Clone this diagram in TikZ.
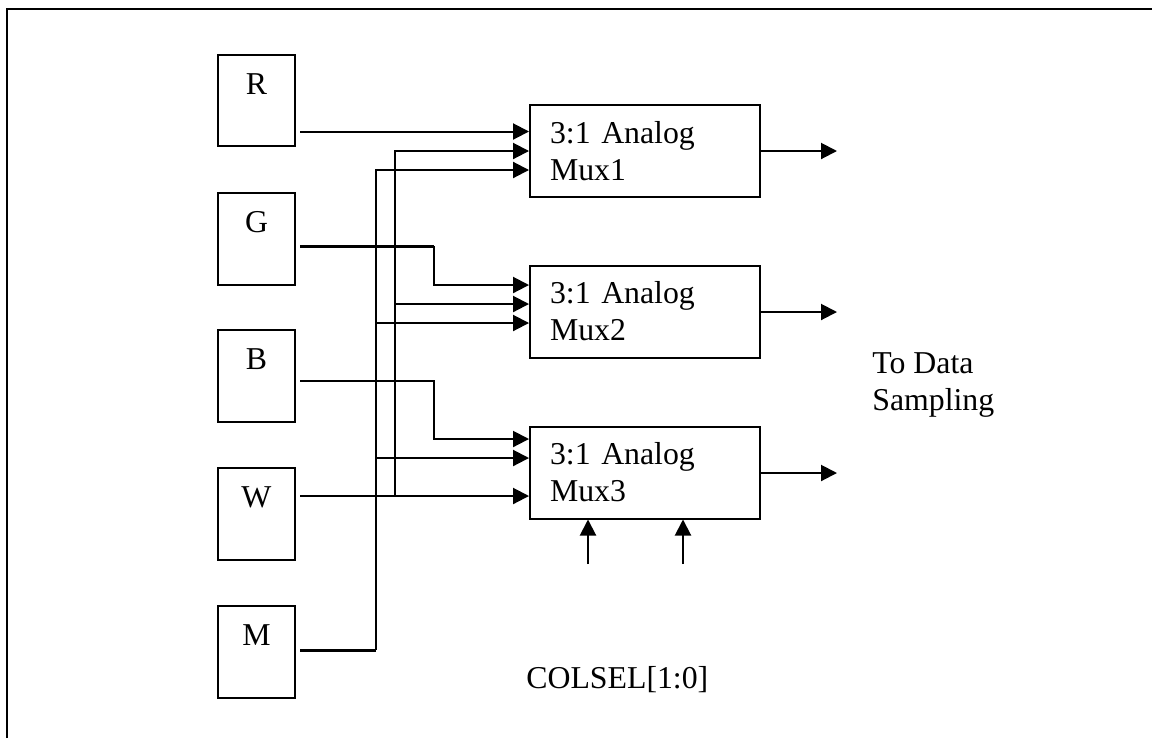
\documentclass[tikz,border=0pt]{standalone}
\usepackage{fontspec}
\setmainfont{Liberation Serif}
\usetikzlibrary{arrows.meta}
\begin{document}
\begin{tikzpicture}[x=0.02cm,y=-0.02cm]
\tikzstyle{every node}+=[inner sep=0pt,font=\fontsize{18.1}{21}\selectfont]
\tikzstyle{srcbox}=[draw=black,line width=0.04cm,minimum width=1.54cm,minimum height=1.84cm,align=center]
\tikzstyle{muxbox}=[draw=black,line width=0.04cm,minimum width=4.6cm,minimum height=1.84cm,text width=3.8cm,align=left]
\tikzstyle{wire}=[black,line width=0.04cm]
\tikzstyle{tipwire}=[wire,-{Triangle[length=0.32cm,width=0.32cm]}]
\useasboundingbox (0,0) rectangle (1152,738);
\draw [black,line width=0.05cm] (7,738) -- (7,9) -- (1152,9);
\node (rbox) [srcbox] at (256.5,100.5) {R\\[-2.3pt]~};
\node (gbox) [srcbox] at (256.5,238.5) {G\\[-2.3pt]~};
\node (bbox) [srcbox] at (256.5,376) {B\\[-2.3pt]~};
\node (wbox) [srcbox] at (256.5,514) {W\\[-2.3pt]~};
\node (mbox) [srcbox] at (256.5,651.5) {M\\[-2.3pt]~};
\node (mux1) [muxbox] at (645,151) {3:1 Analog\\Mux1};
\node (mux2) [muxbox] at (645,311.5) {3:1 Analog\\Mux2};
\node (mux3) [muxbox] at (645,472.5) {3:1 Analog\\Mux3};
\node (tosampling) [anchor=west,align=left] at (872,385) {To Data\\Sampling};
\node (colsel) [anchor=west] at (526,680) {COLSEL[1:0]};
\coordinate (rout) at (300,131.5);
\coordinate (gout) at (300,246);
\coordinate (gbend) at (434,246);
\coordinate (bout) at (300,381);
\coordinate (bbend) at (434,381);
\coordinate (wout) at (300,496);
\coordinate (wtap) at (395,496);
\coordinate (mout) at (300,650);
\coordinate (mtap) at (376,650);
\coordinate (mux1out) at (837,151);
\coordinate (mux2out) at (837,312);
\coordinate (mux3out) at (837,473);
\coordinate (sel0) at (588,564);
\coordinate (sel1) at (683,564);
\draw [tipwire] (rout) -- (rout -| mux1.west);
\draw [tipwire] (wtap) |- (mux1.west);
\draw [tipwire] (mtap) |- ([yshift=-0.38cm]mux1.west);
\draw [wire,line width=0.06cm] (gout) -- (gbend);
\draw [tipwire] (gbend) |- ([yshift=0.53cm]mux2.west);
\draw [tipwire] (wtap) |- ([yshift=0.15cm]mux2.west);
\draw [tipwire] (mtap) |- ([yshift=-0.23cm]mux2.west);
\draw [tipwire] (bout) -- (bbend) |- ([yshift=0.67cm]mux3.west);
\draw [tipwire] (mtap) |- ([yshift=0.29cm]mux3.west);
\draw [tipwire] (wout) -- (wout -| mux3.west);
\draw [wire,line width=0.06cm] (mout) -- (mtap);
\draw [tipwire] (mux1.east |- mux1out) -- (mux1out);
\draw [tipwire] (mux2.east |- mux2out) -- (mux2out);
\draw [tipwire] (mux3.east |- mux3out) -- (mux3out);
\draw [tipwire] (sel0) -- (sel0 |- mux3.south);
\draw [tipwire] (sel1) -- (sel1 |- mux3.south);
\end{tikzpicture}
\end{document}
